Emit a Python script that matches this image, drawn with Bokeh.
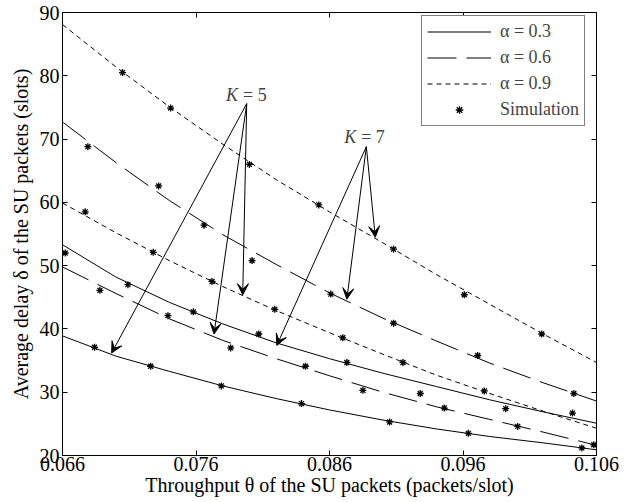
from bokeh.plotting import figure
from bokeh.models import FixedTicker, LinearAxis, Legend, LegendItem, Arrow, VeeHead, Range1d, Label
from bokeh.embed import file_html
from bokeh.resources import INLINE

# ---------------- data ----------------
x_ticks = [0.066, 0.076, 0.086, 0.096, 0.106]
x_tick_labels = ["0.066", "0.076", "0.086", "0.096", "0.106"]
y_ticks = [20, 30, 40, 50, 60, 70, 80, 90]
y_tick_labels = ["20", "30", "40", "50", "60", "70", "80", "90"]

theta = [0.066, 0.070, 0.074, 0.078, 0.082, 0.086, 0.090, 0.094, 0.098, 0.102, 0.106]
# analytical curves
a09_k7 = [88.1, 81.4, 75.1, 69.2, 63.6, 58.5, 53.6, 48.6, 43.9, 39.2, 34.7]
a06_k7 = [72.7, 66.3, 60.3, 54.9, 50.2, 45.7, 41.7, 38.1, 34.6, 31.5, 28.6]
a09_k5 = [59.9, 55.2, 50.8, 46.7, 42.9, 39.4, 36.0, 32.7, 29.8, 27.0, 24.3]
a03_k7 = [53.3, 48.2, 44.2, 40.8, 37.8, 35.3, 33.0, 30.9, 28.8, 26.9, 25.1]
a06_k5 = [49.8, 45.6, 41.6, 38.2, 35.3, 32.6, 30.0, 27.7, 25.7, 23.7, 21.6]
a03_k5 = [38.9, 35.7, 33.3, 31.0, 29.0, 27.2, 25.6, 24.2, 23.0, 22.0, 20.9]

# simulation points
sim_a09_k7_x = [0.0705, 0.0741, 0.0800, 0.0852, 0.0908, 0.0961, 0.1019]
sim_a09_k7_y = [80.5, 74.9, 66.0, 59.6, 52.6, 45.4, 39.2]
sim_a06_k7_x = [0.0679, 0.0732, 0.0766, 0.0802, 0.0861, 0.0908, 0.0971, 0.1043]
sim_a06_k7_y = [68.8, 62.6, 56.4, 50.8, 45.5, 40.9, 35.8, 29.8]
sim_a09_k5_x = [0.0677, 0.0728, 0.0772, 0.0819, 0.0870, 0.0915, 0.0976, 0.1042]
sim_a09_k5_y = [58.5, 52.1, 47.5, 43.1, 38.6, 34.7, 30.2, 26.7]
sim_a03_k7_x = [0.0662, 0.0709, 0.0758, 0.0807, 0.0873, 0.0928, 0.0992]
sim_a03_k7_y = [52.0, 47.0, 42.7, 39.2, 34.7, 29.8, 27.4]
sim_a06_k5_x = [0.0688, 0.0739, 0.0786, 0.0842, 0.0885, 0.0946, 0.1001, 0.1058]
sim_a06_k5_y = [46.1, 42.1, 37.0, 34.1, 30.3, 27.5, 24.6, 21.7]
sim_a03_k5_x = [0.0684, 0.0726, 0.0779, 0.0839, 0.0905, 0.0964, 0.1049]
sim_a03_k5_y = [37.1, 34.1, 31.0, 28.2, 25.3, 23.5, 21.2]

legend_labels = ["α = 0.3", "α = 0.6", "α = 0.9", "Simulation"]

FONT = "Liberation Serif"
FS_AX = "20px"
FS_LEG = "18px"
FS_K = "18px"

p = figure(width=632, height=502, output_backend="svg", toolbar_location=None,
           x_range=Range1d(0.066, 0.106), y_range=Range1d(20, 90),
           min_border_left=62, min_border_right=36, min_border_top=12, min_border_bottom=47,
           background_fill_color="white", border_fill_color="white")
p.xgrid.visible = False
p.ygrid.visible = False
p.outline_line_color = "black"
p.outline_line_width = 1
p.outline_line_alpha = 1

# main axes
for ax in (p.xaxis[0], p.yaxis[0]):
    ax.major_tick_in = 5
    ax.major_tick_out = 0
    ax.minor_tick_line_color = None
    ax.axis_line_color = "black"
    ax.major_tick_line_color = "black"
    ax.major_label_text_font = FONT
    ax.major_label_text_font_size = FS_AX
    ax.major_label_text_color = "black"
    ax.axis_label_text_font = FONT
    ax.axis_label_text_font_size = FS_AX
    ax.axis_label_text_font_style = "normal"
    ax.axis_label_text_color = "black"

p.xaxis[0].ticker = FixedTicker(ticks=x_ticks)
p.xaxis[0].major_label_overrides = dict(zip(x_ticks, x_tick_labels))
p.yaxis[0].ticker = FixedTicker(ticks=y_ticks)
p.yaxis[0].major_label_overrides = dict(zip(y_ticks, y_tick_labels))
p.xaxis[0].axis_label = "Throughput θ of the SU packets (packets/slot)"
p.yaxis[0].axis_label = "Average delay δ of the SU packets (slots)"
p.xaxis[0].major_label_standoff = 1
p.xaxis[0].axis_label_standoff = 0
p.yaxis[0].major_label_standoff = 3
p.yaxis[0].axis_label_standoff = 5

# mirror axes: tick marks only (drawn as minor ticks, no labels)
top = LinearAxis(ticker=FixedTicker(ticks=[], minor_ticks=x_ticks),
                 minor_tick_in=5, minor_tick_out=0, major_tick_in=0, major_tick_out=0,
                 minor_tick_line_color="black", axis_line_color="black")
right = LinearAxis(ticker=FixedTicker(ticks=[], minor_ticks=y_ticks),
                   minor_tick_in=5, minor_tick_out=0, major_tick_in=0, major_tick_out=0,
                   minor_tick_line_color="black", axis_line_color="black")
p.add_layout(top, "above")
p.add_layout(right, "right")

SOLID, DASH, DOT = "solid", "29 10", "5 4"
LW = 1

r_a09_k7 = p.line(theta, a09_k7, line_color="black", line_width=LW, line_dash=DOT)
r_a06_k7 = p.line(theta, a06_k7, line_color="black", line_width=LW, line_dash=DASH)
p.line(theta, a09_k5, line_color="black", line_width=LW, line_dash=DOT)
r_a03_k7 = p.line(theta, a03_k7, line_color="black", line_width=LW, line_dash=SOLID)
p.line(theta, a06_k5, line_color="black", line_width=LW, line_dash=DASH)
p.line(theta, a03_k5, line_color="black", line_width=LW, line_dash=SOLID)

star_kw = dict(marker="asterisk", size=7, line_color="black", line_width=1.3)
r_sim = p.scatter(sim_a09_k7_x, sim_a09_k7_y, **star_kw)
for xs, ys in [(sim_a06_k7_x, sim_a06_k7_y), (sim_a09_k5_x, sim_a09_k5_y),
               (sim_a03_k7_x, sim_a03_k7_y), (sim_a06_k5_x, sim_a06_k5_y),
               (sim_a03_k5_x, sim_a03_k5_y)]:
    p.scatter(xs, ys, **star_kw)

# annotations: K = 5 / K = 7 with arrows
def k_label(x, y, txt):
    p.add_layout(Label(x=x, y=y, text="K", text_font=FONT, text_font_size=FS_K,
                       text_font_style="italic", text_baseline="middle", text_align="left"))
    p.add_layout(Label(x=x, y=y, x_offset=17, text="= " + txt, text_font=FONT,
                       text_font_size=FS_K, text_baseline="middle", text_align="left"))

k_label(0.07825, 76.9, "5")
k_label(0.0871, 70.4, "7")

def arrow(x0, y0, x1, y1):
    p.add_layout(Arrow(x_start=x0, y_start=y0, x_end=x1, y_end=y1, line_width=1,
                       line_color="black",
                       end=VeeHead(size=11, fill_color="black", line_color="black", line_width=1)))

for tip in [(0.06968, 36.2), (0.07735, 39.2), (0.0795, 45.4)]:
    arrow(0.0798, 75.6, tip[0], tip[1])
for tip in [(0.08205, 37.4), (0.0873, 44.7), (0.08943, 54.5)]:
    arrow(0.08876, 68.8, tip[0], tip[1])

legend = Legend(items=[LegendItem(label=legend_labels[0], renderers=[r_a03_k7]),
                       LegendItem(label=legend_labels[1], renderers=[r_a06_k7]),
                       LegendItem(label=legend_labels[2], renderers=[r_a09_k7]),
                       LegendItem(label=legend_labels[3], renderers=[r_sim])],
                location=(359, 329), margin=0, padding=5, spacing=5,
                glyph_width=64, glyph_height=19, label_height=19, label_standoff=9,
                label_text_font=FONT, label_text_font_size=FS_LEG,
                border_line_color="black", border_line_width=1,
                background_fill_color="white", background_fill_alpha=1)
p.add_layout(legend)

open("out.html", "w").write(file_html(p, INLINE))
